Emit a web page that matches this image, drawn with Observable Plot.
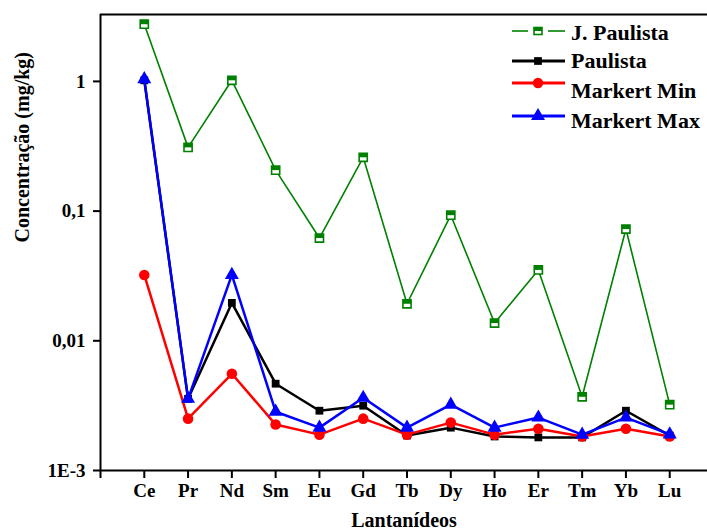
<!DOCTYPE html>
<html><head><meta charset="utf-8">
<script src="https://cdn.jsdelivr.net/npm/d3@7"></script>
<script src="https://cdn.jsdelivr.net/npm/@observablehq/plot@0.6"></script>
<style>
body{margin:0;background:#fff;overflow:hidden}
#wrap{position:relative;width:707px;height:530px;overflow:hidden}
#legend{position:absolute;left:0;top:0}
svg text{font-family:"Liberation Serif","Times New Roman",Times,"DejaVu Serif","Noto Serif",serif !important}
</style>
</head><body><div id="wrap"></div>
<script>
const elements = ["Ce","Pr","Nd","Sm","Eu","Gd","Tb","Dy","Ho","Er","Tm","Yb","Lu"];
const jPaulista  = [2.76, 0.31, 1.02, 0.207, 0.062, 0.26, 0.0193, 0.093, 0.0137, 0.0352, 0.0037, 0.0727, 0.00322];
const paulista   = [1.02, 0.00357, 0.0196, 0.00467, 0.00289, 0.00316, 0.00186, 0.00214, 0.00183, 0.0018, 0.0018, 0.00289, 0.00186];
const markertMin = [0.0322, 0.00251, 0.00557, 0.00226, 0.00189, 0.00251, 0.00189, 0.00234, 0.00189, 0.0021, 0.00183, 0.0021, 0.00183];
const markertMax = [1.04, 0.00357, 0.0322, 0.00284, 0.00214, 0.00364, 0.00214, 0.00322, 0.00214, 0.00256, 0.00189, 0.00256, 0.0019];
const seriesNames = ["J. Paulista","Paulista","Markert Min","Markert Max"];
const seriesColors = ["#008000","#000000","#ff0000","#0000ff"];
const yTicks = [0.001, 0.01, 0.1, 1];
const yTickLabels = ["1E-3","0,01","0,1","1"];

const rows = v => v.map((y, k) => ({x: k + 1, y, el: elements[k]}));
const topHalf = {draw(ctx, size){const s = Math.sqrt(size); ctx.moveTo(-s/2,-s/2); ctx.lineTo(s/2,-s/2); ctx.lineTo(s/2,0); ctx.lineTo(-s/2,0); ctx.closePath();}};
const font = "Liberation Serif, Times New Roman, serif";

const chart = Plot.plot({
  width: 707, height: 530,
  marginLeft: 100, marginTop: 14, marginBottom: 60, marginRight: 0,
  style: {fontFamily: font, fontWeight: "bold", fontSize: "19px", background: "white", color: "black"},
  x: {domain: [0, 14], range: [100, 713], axis: null},
  y: {type: "log", domain: [0.001, 3.28], range: [470, 14], axis: null},
  marks: [
    Plot.axisY({ticks: yTicks, tickFormat: d => yTickLabels[yTicks.indexOf(d)], tickSize: 7, tickPadding: 8,
      strokeWidth: 2, fontSize: 19, fontWeight: "bold", label: null}),
    Plot.text(["Concentração (mg/kg)"], {frameAnchor: "left", dx: -78, rotate: -90, fontSize: 20, fontWeight: "bold", text: d => d, lineAnchor: "middle"}),
    Plot.axisX({ticks: d3.range(0, 14), tickFormat: i => elements[i - 1] ?? "", tickSize: 8, tickPadding: 5,
      strokeWidth: 2, fontSize: 19, fontWeight: "bold", label: null}),
    Plot.text(["Lantanídeos"], {frameAnchor: "bottom", dy: 50, lineAnchor: "middle", fontSize: 20, fontWeight: "bold", text: d => d}),
    Plot.ruleX([0], {strokeWidth: 2}),
    Plot.ruleY([3.28], {strokeWidth: 2.2}),
    Plot.ruleY([0.001], {strokeWidth: 2}),
    // J. Paulista
    Plot.line(rows(jPaulista), {x: "x", y: "y", stroke: seriesColors[0], strokeWidth: 1.6}),
    Plot.dot(rows(jPaulista), {x: "x", y: "y", symbol: "square", r: 4.6, fill: "white", stroke: seriesColors[0], strokeWidth: 1.6}),
    Plot.dot(rows(jPaulista), {x: "x", y: "y", symbol: topHalf, r: 4.6, fill: seriesColors[0]}),
    // Paulista
    Plot.line(rows(paulista), {x: "x", y: "y", stroke: seriesColors[1], strokeWidth: 2.5}),
    Plot.dot(rows(paulista), {x: "x", y: "y", symbol: "square", r: 4.4, fill: seriesColors[1]}),
    // Markert Min
    Plot.line(rows(markertMin), {x: "x", y: "y", stroke: seriesColors[2], strokeWidth: 2.5}),
    Plot.dot(rows(markertMin), {x: "x", y: "y", symbol: "circle", r: 5.3, fill: seriesColors[2]}),
    // Markert Max
    Plot.line(rows(markertMax), {x: "x", y: "y", stroke: seriesColors[3], strokeWidth: 2.5}),
    Plot.dot(rows(markertMax), {x: "x", y: "y", symbol: "triangle", r: 5.2, fill: seriesColors[3]})
  ]
});
const wrap = document.getElementById("wrap");
wrap.appendChild(chart);

// Legend overlay
const lg = d3.select(wrap).append("svg").attr("id", "legend").attr("width", 707).attr("height", 140)
  .style("font-family", font).style("font-weight", "bold");
const lineY = [31, 61, 83, 116];
const textY = [40, 68, 98, 128];
seriesNames.forEach((name, k) => {
  const g = lg.append("g");
  const c = seriesColors[k];
  if (k === 0) {
    g.append("line").attr("x1", 512).attr("x2", 528).attr("y1", lineY[k]).attr("y2", lineY[k]).attr("stroke", c).attr("stroke-width", 1.6);
    g.append("line").attr("x1", 548).attr("x2", 565).attr("y1", lineY[k]).attr("y2", lineY[k]).attr("stroke", c).attr("stroke-width", 1.6);
    g.append("rect").attr("x", 534).attr("y", lineY[k] - 3.5).attr("width", 8).attr("height", 7).attr("fill", "white").attr("stroke", c).attr("stroke-width", 1.6);
    g.append("rect").attr("x", 534).attr("y", lineY[k] - 3.5).attr("width", 8).attr("height", 3.5).attr("fill", c);
  } else {
    g.append("line").attr("x1", 512).attr("x2", 565).attr("y1", lineY[k]).attr("y2", lineY[k]).attr("stroke", c).attr("stroke-width", 2.8);
    const sym = k === 1 ? d3.symbolSquare : k === 2 ? d3.symbolCircle : d3.symbolTriangle;
    const size = k === 1 ? 60 : 85;
    g.append("path").attr("d", d3.symbol(sym, size)()).attr("transform", `translate(538,${lineY[k]})`).attr("fill", c);
  }
  g.append("text").attr("x", 571).attr("y", textY[k]).attr("font-size", 22).attr("fill", "black").text(name);
});
</script>
</body></html>
